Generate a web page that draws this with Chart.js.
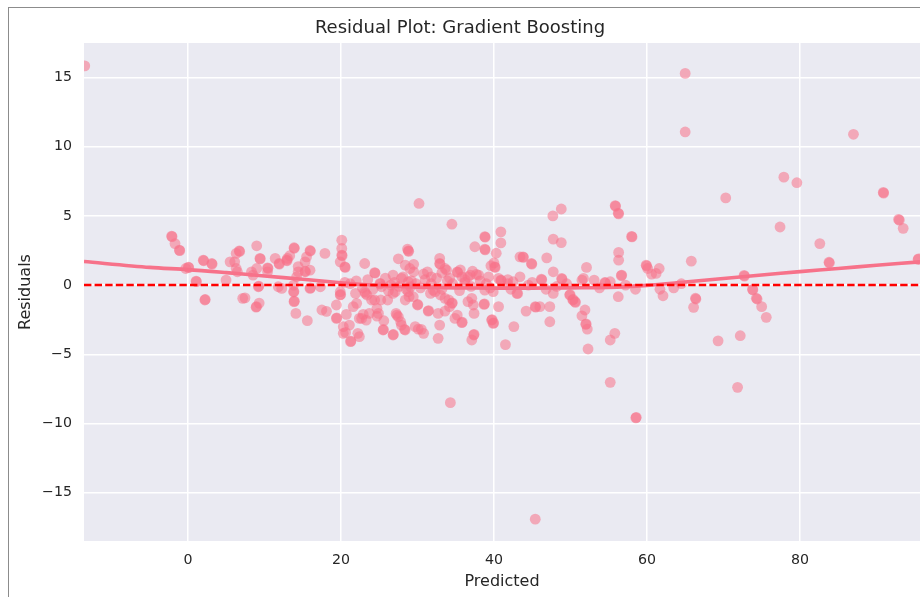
<!DOCTYPE html>
<html>
<head>
<meta charset="utf-8">
<script src="https://cdn.jsdelivr.net/npm/chart.js@4.4.1/dist/chart.umd.min.js"></script>
<style>
  html, body { margin: 0; padding: 0; background: #fff; }
  #wrap { position: relative; width: 920px; height: 597px; overflow: hidden; }
  #frame { position: absolute; left: 8px; top: 7px; width: 1000px; height: 700px;
           border-left: 1px solid #8c8c8c; border-top: 1px solid #8c8c8c; pointer-events: none; }
  canvas { position: absolute; left: 0; top: 0; }
</style>
</head>
<body>
<div id="wrap">
  <canvas id="resid" width="920" height="597"></canvas>
  <div id="frame"></div>
</div>
<script>
// Residual plot data
const predicted = [
  -13.5, 65.0, 65.0, 87.0, 77.9, 79.6, 70.3, 90.9, 90.95, 93.0,
  92.9, 93.5, 77.4, 82.6, 83.8, 83.85, 95.5, 95.45, 65.8, 72.7,
  72.75, 73.8, 73.85, 74.4, 74.3, 75.0, 75.6, 72.2, 71.85, 69.3,
  66.4, 66.35, 66.1, 61.7, 62.1, 59.9, 59.95, 60.1, 60.6, 61.2,
  61.6, 58.6, 58.55, 55.2, 55.2, 55.8, 56.25, 56.7, 56.65, 56.3,
  56.3, 56.3, 56.25, 55.9, 55.85, 58.0, 58.05, 48.8, 47.7, 47.75,
  48.8, 46.9, 47.75, 52.1, 51.7, 51.5, 53.1, 54.5, 54.55, 55.2,
  48.85, 48.9, 46.2, 46.25, 47.75, 49.9, 49.95, 50.3, 50.35, 50.6,
  50.65, 45.4, 45.45, 46.0, 47.3, 44.2, 47.3, 51.9, 51.5, 52.0,
  52.05, 52.2, 52.3, 42.6, 41.5, 45.4, 34.3, 43.4, 43.8, 43.85,
  44.9, 44.95, 42.5, 43.4, 43.0, 40.9, 40.9, 40.3, 38.8, 38.85,
  38.8, 38.85, 37.5, 40.1, 40.15, 40.0, 40.9, 40.95, 40.6, 38.0,
  37.7, 36.9, 36.6, 35.8, 35.2, 35.25, 33.8, 33.6, 32.9, 32.95,
  32.9, 31.3, 30.2, 34.5, 28.8, 28.85, 28.7, 27.5, 28.4, 29.0,
  29.5, 27.9, 28.8, 26.8, 24.4, 24.45, 23.1, 25.1, 25.15, 20.1,
  20.1, 20.1, 20.15, 19.9, 20.5, 20.55, 17.9, 15.95, 16.0, 15.5,
  15.3, 15.95, 15.3, 15.35, 14.4, 14.2, 14.4, 13.86, 13.9, 13.3,
  13.0, 12.9, 12.95, 11.9, 11.95, 11.4, 10.4, 10.45, 10.4, 9.4,
  9.45, 8.98, 8.98, 8.3, 8.5, 6.7, 6.75, 6.3, 6.1, 5.5,
  6.3, 6.45, 4.97, 3.1, 3.15, 2.0, 2.05, 1.05, 1.1, 0.04,
  0.09, -0.3, -1.13, -1.08, -1.7, -2.14, -2.09, 2.2, 2.25, 7.15,
  7.45, 8.9, 8.95, 9.3, 9.2, 9.25, 11.8, 12.25, 13.8, 13.8,
  13.85, 13.86, 13.9, 14.1, 15.6, 15.95, 16.0, 17.3, 17.5, 18.1,
  19.4, 19.4, 19.45, 19.9, 19.9, 19.95, 20.3, 20.3, 20.7, 21.25,
  21.3, 21.1, 21.6, 21.9, 22.4, 22.4, 22.9, 23.2, 23.3, 23.7,
  24.0, 24.4, 24.7, 25.2, 25.3, 25.6, 26.1, 26.5, 26.8, 27.2,
  27.5, 27.8, 28.3, 28.4, 28.9, 29.1, 30.0, 30.05, 30.5, 31.4,
  31.45, 31.7, 32.05, 33.0, 33.6, 34.1, 34.5, 34.55, 35.2, 35.8,
  35.85, 37.1, 37.35, 37.4, 37.1, 38.7, 38.75, 39.7, 39.75, 39.9,
  39.95, 43.1, 22.05, 23.1, 23.4, 22.7, 24.7, 24.9, 25.5, 25.55,
  26.8, 26.85, 27.1, 27.3, 27.9, 28.4, 28.8, 29.45, 29.7, 30.1,
  30.8, 32.3, 32.7, 32.9, 32.7, 33.6, 34.2, 34.9, 36.6, 37.3,
  37.4, 38.8, 39.9, 40.6, 22.2, 20.6, 20.5, 21.2, 22.0, 22.8,
  23.5, 24.2, 25.8, 26.2, 27.0, 27.6, 28.1, 28.5, 29.2, 29.8,
  30.4, 31.0, 31.8, 32.5, 33.2, 33.9, 34.6, 35.5, 36.2, 37.0,
  38.2, 39.0, 39.5, 41.8, 42.2, 44.5, 45.0, 46.8, 48.2, 49.5,
  53.8, 57.2, 58.5, 63.5, 64.5, 29.5, 30.8, 31.8, 33.2, 34.2,
  35.6, 36.2, 37.2, 39.3, 39.6, 41.8
];
const residuals = [
  15.85, 15.3, 11.07, 10.9, 7.8, 7.4, 6.3, 6.7, 6.65, 4.7,
  4.75, 4.1, 4.2, 3.0, 1.65, 1.6, 1.9, 1.85, 1.73, 0.7,
  0.65, -0.31, -0.35, -1.01, -0.95, -1.56, -2.33, -3.66, -7.39, -4.03,
  -1.01, -0.95, -1.61, -0.3, -0.77, 1.44, 1.38, 1.2, 0.79, 0.84,
  1.2, -9.56, -9.6, -7.03, -3.97, -3.49, -0.84, 0.72, 0.68, 1.8,
  2.36, 5.15, 5.2, 5.7, 5.75, 3.52, 3.48, 5.5, 5.0, 3.32,
  3.07, 1.97, 0.96, 1.28, 0.48, 0.36, 0.36, 0.19, 0.15, 0.24,
  0.48, 0.42, 0.43, 0.38, -0.6, -0.72, -0.68, -1.08, -1.04, -1.2,
  -1.25, -1.56, -1.6, -1.56, -1.56, -1.88, -2.65, -1.8, -2.22, -2.84,
  -2.8, -3.18, -4.62, -3.0, -4.3, -16.92, -8.5, 2.04, 2.04, 2.0,
  1.56, 1.52, 0.24, 0.6, -0.6, 3.85, 3.05, 2.3, 3.5, 3.46,
  2.6, 2.55, 2.77, 1.32, 1.28, 1.6, 0.36, 0.32, 0.48, 0.72,
  0.77, 0.72, 0.6, 0.6, 0.96, 0.92, 1.08, 1.2, 1.56, 1.52,
  1.93, 0.96, 5.9, 4.4, 2.48, 2.44, 2.6, 1.9, 1.44, 1.2,
  0.96, 0.48, 0.24, 0.72, 0.9, 0.86, 1.56, 0.12, 0.08, 3.25,
  2.65, 2.17, 2.13, 1.68, 1.32, 1.28, 2.29, 2.5, 2.46, 2.04,
  1.68, 1.08, 1.0, 0.96, 1.33, 0.6, 0.96, 2.7, 2.66, 2.12,
  1.93, 1.8, 1.76, 1.56, 1.52, 1.93, 1.25, 1.21, 0.96, 1.93,
  1.89, 2.84, 1.2, 0.96, 0.72, 2.47, 2.43, 2.29, 1.68, 1.68,
  1.2, 0.96, 0.36, 1.56, 1.52, 1.8, 1.76, 0.29, 0.25, 1.3,
  1.26, 1.2, 2.53, 2.49, 3.0, 3.54, 3.5, -1.08, -1.04, -0.96,
  -0.92, -1.6, -1.56, -1.3, -0.12, -0.08, -0.12, -0.24, 0.0, -0.5,
  -0.46, -1.2, -1.16, -2.05, -2.57, -0.24, -0.2, -0.12, -1.8, -1.9,
  -1.44, -2.41, -2.37, -0.48, -0.72, -0.68, -3.01, -3.49, -2.12, -4.09,
  -4.05, -2.89, -1.56, -0.6, -3.73, -2.41, -2.12, -0.6, -2.53, -2.05,
  -1.08, -1.08, -2.24, -1.08, -0.12, -2.58, -1.08, 0.0, -0.6, -2.05,
  -2.29, -2.65, -3.2, -1.08, -0.84, -0.12, -1.44, -1.4, -3.2, -1.88,
  -1.84, -0.6, -0.36, -0.72, -1.88, -1.08, -1.32, -1.28, -2.17, -2.72,
  -2.68, -3.97, -3.61, -2.05, -0.96, -1.4, -1.36, -2.53, -2.49, -2.77,
  -2.73, -0.6, -1.32, -0.48, -0.72, -2.41, -1.68, -2.05, -3.25, -3.21,
  -3.61, -3.57, -0.48, -2.17, -2.89, -3.25, -0.48, -0.84, -3.0, -3.18,
  -3.49, -0.48, -2.05, -2.89, -3.85, -0.96, -1.56, -2.41, -1.2, -1.44,
  -3.56, -0.36, -0.48, -1.56, -3.49, -3.42, 0.2, 0.1, 0.3, -0.2,
  0.4, -0.3, 0.5, -0.4, 0.2, -0.1, 0.6, -0.3, 0.3, 0.1,
  -0.2, 0.4, 0.1, 0.5, -0.3, 0.3, 0.1, -0.4, 0.2, -0.1,
  0.3, 0.1, -0.2, 0.1, -0.3, 0.0, 0.2, -0.3, -0.1, 0.1,
  -0.2, 0.0, -0.3, -0.2, 0.1, 1.5, 0.8, 0.6, 0.9, 0.5,
  1.1, 0.4, 1.0, 0.6, 1.4, 0.4
];

// lowess trend line
const lowessX = [-13.6, -5, 0, 5, 10, 15, 20, 25, 30, 35, 40, 45, 50, 55, 60, 65, 70, 75, 80, 85, 90, 95.7];
const lowessY = [1.70, 1.28, 1.12, 0.90, 0.66, 0.42, 0.17, -0.03, -0.15, -0.2, -0.22, -0.22, -0.2, -0.17, -0.02, 0.22, 0.47, 0.73, 0.97, 1.2, 1.43, 1.68];

// axes
const xRange = [-13.6, 95.7];
const yRange = [-18.5, 17.5];
const xTicks = [0, 20, 40, 60, 80];
const yTicks = [-15, -10, -5, 0, 5, 10, 15];

const textColor = '#262626';
const fontFamily = '"DejaVu Sans", Verdana, sans-serif';

const plotBg = {
    id: 'plotBg',
    beforeDraw(chart) {
        const { ctx, chartArea: a } = chart;
        ctx.save();
        ctx.fillStyle = '#EAEAF2';
        ctx.fillRect(a.left, a.top, a.right - a.left, a.bottom - a.top);
        ctx.restore();
    }
};

const points = predicted.map((x, i) => ({ x: x, y: residuals[i] }));
const trend = lowessX.map((x, i) => ({ x: x, y: lowessY[i] }));
const zero = xRange.map(x => ({ x: x, y: 0 }));

new Chart(document.getElementById('resid'), {
    type: 'scatter',
    data: {
        datasets: [
            {
                label: 'zero',
                type: 'line',
                data: zero,
                borderColor: '#ff0000',
                borderWidth: 2.5,
                borderDash: [7.4, 3.2],
                pointRadius: 0,
                fill: false,
                order: 1
            },
            {
                label: 'lowess',
                type: 'line',
                data: trend,
                borderColor: '#F7728A',
                borderWidth: 3.6,
                pointRadius: 0,
                tension: 0.3,
                fill: false,
                order: 2
            },
            {
                label: 'residuals',
                data: points,
                backgroundColor: 'rgba(247, 113, 137, 0.55)',
                borderWidth: 0,
                pointRadius: 5.4,
                order: 3
            }
        ]
    },
    options: {
        responsive: false,
        animation: false,
        layout: { autoPadding: false, padding: { left: 0, right: 0, top: 0, bottom: 0 } },
        scales: {
            x: {
                type: 'linear',
                min: xRange[0],
                max: xRange[1],
                border: { display: false },
                grid: { color: '#ffffff', lineWidth: 1.5, drawTicks: false },
                afterBuildTicks: scale => { scale.ticks = xTicks.map(v => ({ value: v })); },
                afterFit: scale => {
                    scale.height = 56;
                    scale.paddingLeft = 0;
                    scale.paddingRight = 0;
                },
                ticks: {
                    color: textColor,
                    padding: 11,
                    maxRotation: 0,
                    font: { family: fontFamily, size: 14.2 }
                },
                title: {
                    display: true,
                    text: 'Predicted',
                    color: textColor,
                    padding: { top: 0, bottom: 6 },
                    font: { family: fontFamily, size: 16 }
                }
            },
            y: {
                type: 'linear',
                min: yRange[0],
                max: yRange[1],
                border: { display: false },
                grid: { color: '#ffffff', lineWidth: 1.5, drawTicks: false },
                afterBuildTicks: scale => { scale.ticks = yTicks.map(v => ({ value: v })); },
                afterFit: scale => {
                    scale.width = 84;
                    scale.paddingTop = 0;
                    scale.paddingBottom = 0;
                },
                ticks: {
                    color: textColor,
                    padding: 12,
                    font: { family: fontFamily, size: 14.2 },
                    callback: v => String(v).replace('-', '\u2212')
                },
                title: {
                    display: true,
                    text: 'Residuals',
                    color: textColor,
                    padding: { top: 16, bottom: 0 },
                    font: { family: fontFamily, size: 16 }
                }
            }
        },
        plugins: {
            legend: { display: false },
            tooltip: { enabled: false },
            title: {
                display: true,
                text: 'Residual Plot: Gradient Boosting',
                color: textColor,
                padding: { top: 17.5, bottom: 3.9 },
                font: { family: fontFamily, size: 18, weight: 'normal' }
            }
        }
    },
    plugins: [plotBg]
});
</script>
</body>
</html>
